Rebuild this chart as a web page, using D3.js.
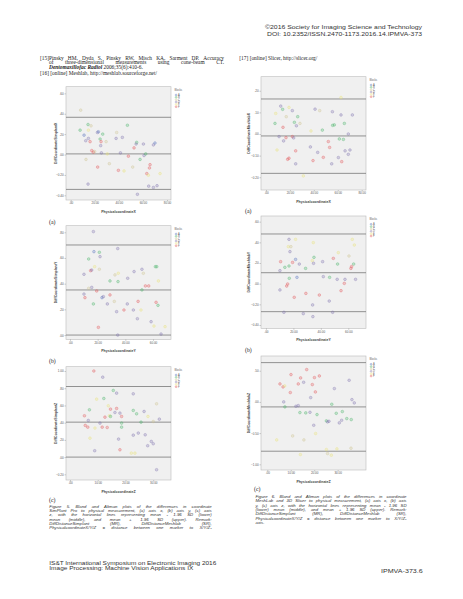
<!DOCTYPE html>
<html><head><meta charset="utf-8">
<script src="https://cdn.jsdelivr.net/npm/d3@7"></script>
<style>
body{margin:0;background:#fff}
svg{display:block}
.ref{font-family:"Liberation Serif","Times New Roman",serif;font-size:5.4px;fill:#222}
.cap{font-family:"Liberation Sans",Arial,sans-serif;font-style:italic;font-size:4.3px;fill:#333}
.hdr{font-family:"Liberation Sans",Arial,sans-serif;font-size:6.2px;fill:#333}
.plab{font-family:"Liberation Serif","Times New Roman",serif;font-size:5.8px;fill:#222}
.tick text{font-family:"Liberation Sans",Arial,sans-serif;font-size:3px;fill:#555}
.atitle{font-family:"Liberation Sans",Arial,sans-serif;font-size:3.5px;font-weight:bold;fill:#444}
.leg{font-family:"Liberation Sans",Arial,sans-serif;font-size:2.6px;fill:#666}
</style>
</head><body><svg id="c" width="463" height="599"></svg>
<script>
// ---------- DATA ----------
const blockNames = ["A","B","C","D","E","F"];
const blockColors = ["#5a74bf","#4cb56a","#cfc594","#8275b0","#e9e27a","#e4585c"];

// Figure 5 (a): SimPlant, X
const laX = [8.3,7.8,11.1,14.4,14.7,12.5,14.7,16.9,16.1,22.2,23.0,24.4,25.2,24.9,26.6,29.4,17.5,18.8,19.9,25.5,12.7,22.4,14.4,32.1,38.2,37.7,42.9,47.1,41.3,39.6,44.3,47.9,51.5,52.6,54.8,54.3,60.4,57.6,60.9,62.3,65.9,65.4,63.2,64.5,55.4,64.8,68.7,71.7,68.7,70.0,74.2,30.4];
const laY = [0.435,0.239,0.19,0.294,0.239,0.135,0.158,0.281,0.126,0.216,0.223,0.152,0.126,0.087,0.2,0.126,0.039,0.023,0.029,0.016,-0.048,-0.123,-0.29,-0.09,0.216,0.158,0.168,0.287,0.016,-0.155,-0.161,-0.016,-0.123,0.065,0.119,0.103,0.103,-0.048,-0.01,0.006,-0.1,-0.132,-0.187,-0.203,-0.39,-0.31,-0.323,-0.306,0.094,0.113,-0.187,0.006];
const laB = "CBABEDDCFDABFDBCFFCDCFDCCDDBDFEFCFBDDBDBFFFEDDDDDAEE";
const laLines = [-0.342, 0.006, 0.365];

// Figure 5 (b): SimPlant, Y
const lbX = [16.9,17.3,21.2,21.7,34.5,13.5,17.8,14.9,15.7,10.1,21.2,28.9,32.5,34.7,34.9,41.7,46.3,52.0,53.0,61.7,62.7,63.9,54.5,56.9,52.0,15.7,13.5,19.3,10.1,10.8,23.1,24.1,28.9,16.9,27.0,32.0,41.4,49.2,33.7,39.0,45.8,48.7,51.3,62.2,63.6,58.6,60.7,20.5,34.5,65.8,68.7];
const lbY = [0.805,0.649,0.644,0.61,0.673,0.592,0.532,0.501,0.506,0.473,0.512,0.421,0.468,0.416,0.481,0.442,0.494,0.512,0.481,0.532,0.532,0.421,0.382,0.382,0.351,0.371,0.364,0.343,0.319,0.291,0.291,0.299,0.312,0.242,0.242,0.262,0.242,0.262,0.182,0.195,0.195,0.127,0.195,0.255,0.231,0.104,0.070,0.06,0.0,0.008,0.065];
const lbB = "DABDDBEFDDCBCBEDDDCBBEFFBDCFDFADFBDCDFDFDDEFBDEFDDE";
const lbLines = [0.0, 0.351, 0.701];

// Figure 5 (c): SimPlant, Z
const lcX = [8.6,11.8,15.6,16.8,22.8,12.2,9.6,13.8,14.6,16.8,16.2,14.2,12.6,14.6,7.0,5.2,6.6,10.8,18.0,18.6,22.8,24.0,26.7,28.1,31.2,32.2,30.0,25.6,18.6,18.6,5.5,6.4,11.6,13.4,9.0,7.2,17.5,22.8,24.6,27.1,28.0,29.3,30.0,8.9,18.0,22.1,31.2,23.4];
const lcY = [1.0,0.928,0.774,0.743,0.735,0.681,0.673,0.596,0.557,0.565,0.518,0.48,0.464,0.472,0.549,0.48,0.426,0.395,0.511,0.472,0.542,0.503,0.53,0.472,0.619,0.441,0.414,0.406,0.395,0.348,0.368,0.348,0.348,0.344,0.337,0.22,0.209,0.255,0.279,0.259,0.132,0.182,0.155,0.074,0.085,0.046,-0.147,0.046];
const lcB = "FDBDDBEEFFDEFBBFDDDFBBDECDCBBBFFFFEEDDDDDDDDFEDE";
const lcLines = [0.0, 0.406, 0.82];

// Figure 6 (a): Meshlab, X
const raX = [12.3,13.9,19.2,22.0,8.1,7.5,14.2,16.9,23.7,25.4,26.5,28.4,41.0,44.9,37.6,47.1,55.5,62.7,55.7,57.1,65.5,72.2,68.8,62.7,10.9,16.7,14.7,22.0,23.1,9.2,18.1,19.2,24.8,24.8,37.1,39.3,43.2,47.9,52.1,53.2,54.9,61.3,64.7,60.5,63.3,66.1,68.8,70.2,31.2];
const raY = [0.129,0.114,0.123,0.108,0.095,0.049,0.031,0.08,0.054,0.038,0.08,0.049,0.115,0.108,0.014,0.018,0.103,0.088,0.04,0.042,0.049,0.088,0.0,0.169,-0.012,-0.017,-0.032,-0.012,-0.018,-0.074,-0.117,-0.112,-0.078,-0.138,-0.06,-0.123,-0.085,-0.108,-0.035,-0.062,-0.138,-0.023,-0.025,-0.109,-0.128,-0.078,-0.094,-0.074,-0.194];
const raB = "DBEDEBFCBDBCDCEBDDBBBDDEDFDFDEFFFDDFDFFFDBBDFDDDE";
const raLines = [-0.182, -0.009, 0.162];

// Figure 6 (b): Meshlab, Y
const rbX = [16.8,16.3,18.2,21.6,17.5,34.5,10.7,10.2,13.8,16.8,19.4,21.6,24.3,28.9,33.8,35.0,34.7,41.3,49.1,52.2,52.7,60.5,62.9,64.4,63.9,61.9,62.4,17.0,22.6,10.2,15.1,15.8,20.6,29.1,34.0,41.8,46.4,51.9,57.6,65.3,54.7,57.1,38.9,46.1,13.1,27.2,34.2,48.6];
const rbY = [0.429,0.358,0.358,0.429,0.31,0.397,0.213,0.126,0.158,0.171,0.206,0.235,0.19,0.148,0.223,0.255,0.197,0.213,0.245,0.19,0.3,0.268,0.429,0.374,0.19,0.148,0.165,0.052,0.061,-0.061,-0.023,-0.003,-0.132,-0.094,-0.206,0.068,0.061,0.042,0.042,0.042,-0.068,0.003,-0.11,-0.168,-0.277,-0.29,-0.319,-0.277];
const rbB = "DECEDEFDBBFADBEBDDFBECEEBFFBADFFFFDDBDDDFFFDDDDD";
const rbLines = [-0.271, 0.106, 0.481];

// Figure 6 (c): Meshlab, Z
const rcX = [16.8,10.1,14.2,20.1,22.2,5.4,6.7,7.4,13.2,15.5,19.2,9.8,20.5,28.6,34.9,18.5,7.0,12.2,13.2,7.5,36.1,37.1,27.5,13.9,16.4,18.2,21.2,19.8,25.2,26.3,25.7,29.4,32.0,33.9,35.8,31.7,30.7,20.6,10.8,4.0,15.6,14.1,25.2,25.7,27.3,29.7,35.7];
const rcY = [0.518,0.438,0.384,0.39,0.416,0.288,0.24,0.256,0.288,0.315,0.278,0.15,0.16,0.214,0.347,0.069,0.0,-0.069,-0.059,-0.08,0.037,-0.016,-0.037,-0.171,-0.176,-0.166,-0.203,-0.374,-0.304,-0.31,-0.32,-0.182,-0.155,-0.267,-0.283,-0.294,-0.336,-0.507,-0.545,-0.609,-0.609,-0.844,-0.763,-0.828,-0.854,-0.753,-0.742];
const rcB = "FFFFFFFEFDFFFDDDDDDBDDBBBDBDBDDBBBBDDECECEECEEC";
const rcLines = [-0.79, -0.08, 0.63];

// tick values
const xTicks80 = [0,20,40,60,80];
const xTicks60 = [0,20,40,60];
const xTicks30 = [0,10,20,30];
const laYTicks = [-0.4,-0.2,0,0.2,0.4,0.6];
const lbYTicks = [0,0.2,0.4,0.6,0.8];
const lcYTicks = [-0.2,0,0.2,0.4,0.6,0.8,1.0];
const raYTicks = [-0.2,-0.1,0,0.1,0.2];
const rbYTicks = [-0.4,-0.2,0,0.2,0.4,0.6];
const rcYTicks = [-1,-0.5,0,0.5];

// ---------- LAYOUT / DRAW ----------
const svg = d3.select("#c");
const color = d3.scaleOrdinal().domain(blockNames).range(blockColors);
const fmt = v => d3.format(".2f")(v).replace(/^(-?)0\./, "$1.");

const panels = [
 {x:laX,y:laY,b:laB,lines:laLines,xt:xTicks80,yt:laYTicks,xTitle:"PhysicalcoordinateX",yTitle:"DiffCoordinateSimplantX",
  box:[66,86.7,171,200],xd:[-3.9,83.3],yd:[-0.446,0.665],lab:"(a)",lx:49,ly:223.5,ytx:56.6},
 {x:lbX,y:lbY,b:lbB,lines:lbLines,xt:xTicks60,yt:lbYTicks,xTitle:"PhysicalcoordinateY",yTitle:"DiffCoordinateSimplantY",
  box:[66,225.7,171,339.3],xd:[-2.9,73.0],yd:[-0.033,0.851],lab:"(b)",lx:49,ly:362.7,ytx:56.6},
 {x:lcX,y:lcY,b:lcB,lines:lcLines,xt:xTicks30,yt:lcYTicks,xTitle:"PhysicalcoordinateZ",yTitle:"DiffCoordinateSimplantZ",
  box:[66,366.7,171,480],xd:[-1.44,36.4],yd:[-0.266,1.05],lab:"(c)",lx:49,ly:502.3,ytx:56.6},
 {x:raX,y:raY,b:raB,lines:raLines,xt:xTicks80,yt:raYTicks,xTitle:"PhysicalcoordinateX",yTitle:"DiffCoordinateMeshlabX",
  box:[261,76.7,366,190],xd:[-4.2,83.6],yd:[-0.259,0.265],lab:"(a)",lx:245,ly:213,ytx:249.6},
 {x:rbX,y:rbY,b:rbB,lines:rbLines,xt:xTicks60,yt:rbYTicks,xTitle:"PhysicalcoordinateY",yTitle:"DiffCoordinateMeshlabY",
  box:[261,216,366,328.3],xd:[-3.6,72.9],yd:[-0.432,0.655],lab:"(b)",lx:245,ly:352,ytx:249.6},
 {x:rcX,y:rcY,b:rcB,lines:rcLines,xt:xTicks30,yt:rcYTicks,xTitle:"PhysicalcoordinateZ",yTitle:"DiffCoordinateMeshlabZ",
  box:[261,356,366,470],xd:[-2.7,42.1],yd:[-1.091,0.736],lab:"(c)",lx:254,ly:491,ytx:249.6}
];

panels.forEach(p => {
  const [x0,y0,x1,y1] = p.box;
  const g = svg.append("g");
  const x = d3.scaleLinear().domain(p.xd).range([x0,x1]);
  const y = d3.scaleLinear().domain(p.yd).range([y1,y0]);
  g.append("rect").attr("x",x0).attr("y",y0).attr("width",x1-x0).attr("height",y1-y0)
    .attr("fill","#f0f0f0").attr("stroke","#bbbbbb").attr("stroke-width",0.6);
  g.selectAll("line.refl").data(p.lines).join("line").attr("class","refl")
    .attr("x1",x0).attr("x2",x1).attr("y1",d=>y(d)).attr("y2",d=>y(d))
    .attr("stroke","#808080").attr("stroke-width",0.85);
  const pts = p.x.map((v,i)=>({x:v,y:p.y[i],b:p.b[i]}));
  g.selectAll("circle.pt").data(pts).join("circle").attr("class","pt")
    .attr("cx",d=>x(d.x)).attr("cy",d=>y(d.y)).attr("r",1.35)
    .attr("fill",d=>color(d.b)).attr("fill-opacity",0.28)
    .attr("stroke",d=>color(d.b)).attr("stroke-opacity",0.65).attr("stroke-width",0.5);
  const ax = g.append("g").attr("transform",`translate(0,${y1})`)
    .call(d3.axisBottom(x).tickValues(p.xt).tickSize(1.5).tickPadding(0.8).tickFormat(fmt));
  const ay = g.append("g").attr("transform",`translate(${x0},0)`)
    .call(d3.axisLeft(y).tickValues(p.yt).tickSize(1.5).tickPadding(0.8).tickFormat(fmt));
  [ax,ay].forEach(a => {
    a.select(".domain").remove();
    a.selectAll(".tick line").attr("stroke","#999").attr("stroke-width",0.5);
    a.attr("font-size",null).attr("font-family",null);
  });
  g.append("text").attr("class","atitle").attr("x",(x0+x1)/2).attr("y",y1+12.5)
    .attr("text-anchor","middle").text(p.xTitle);
  g.append("text").attr("class","atitle")
    .attr("transform",`translate(${p.ytx},${(y0+y1)/2}) rotate(-90)`)
    .attr("text-anchor","middle").text(p.yTitle);
  // legend
  const lx = x1 + 3.5;
  g.append("text").attr("class","leg").attr("x",lx).attr("y",y0+4.3).text("Blocks");
  blockNames.forEach((nm,i) => {
    const yy = y0 + 8.3 + i*2.35;
    g.append("circle").attr("cx",lx+1.6).attr("cy",yy).attr("r",0.95)
      .attr("fill",color(nm)).attr("fill-opacity",0.28)
      .attr("stroke",color(nm)).attr("stroke-opacity",0.75).attr("stroke-width",0.4);
    g.append("text").attr("class","leg").attr("x",lx+3.5).attr("y",yy+0.9).text(nm);
  });
  svg.append("text").attr("class","plab").attr("x",p.lx).attr("y",p.ly).text(p.lab);
});

// ---------- TEXT ----------
function justify(str, x, y, width, cls) {
  const words = str.split(" ");
  const nodes = words.map(w => svg.append("text").attr("class",cls).attr("y",y).text(w));
  const widths = nodes.map(n => n.node().getComputedTextLength());
  const gap = words.length > 1 ? (width - d3.sum(widths)) / (words.length - 1) : 0;
  let cx = x;
  nodes.forEach((n,i) => { n.attr("x",cx); cx += widths[i] + gap; });
}
function plain(str, x, y, cls, anchor) {
  return svg.append("text").attr("class",cls).attr("x",x).attr("y",y).attr("text-anchor",anchor||"start").text(str);
}

// header
plain("©2016 Society for Imaging Science and Technology", 422, 29, "hdr", "end").attr("textLength",157).attr("lengthAdjust","spacingAndGlyphs");
plain("DOI: 10.2352/ISSN.2470-1173.2016.14.IPMVA-373", 422, 36, "hdr", "end").attr("textLength",155).attr("lengthAdjust","spacingAndGlyphs");

// references
justify("[15]Pinsky HM, Dyda S, Pinsky RW, Misch KA, Sarment DP. Accuracy", 40, 59.5, 184, "ref");
justify("of three-dimensional measurements using cone-beam CT.", 49, 64.4, 175, "ref");
const r3 = svg.append("text").attr("class","ref").attr("x",49).attr("y",69.4);
r3.append("tspan").attr("font-weight","bold").attr("font-style","italic").text("Dentomaxillofac Radiol");
r3.append("tspan").text(" 2006;35(6):410-6.");
plain("[16] [online] Meshlab, http://meshlab.sourceforge.net/", 40, 74.6, "ref");
plain("[17] [online] Slicer, http://slicer.org/", 239.3, 59.5, "ref");

// captions
const capL = [
 "Figure 5. Bland and Altman plots of the differences in coordinate",
 "SimPlant Pro to physical measurement, (a) axis x, (b) axis y, (c) axis",
 "z, with the horizontal lines representing mean - 1.96 SD (lower)",
 "mean (middle), and mean + 1.96 SD (upper). Remark:",
 "DiffDistanceSimplant (MR), DiffDistanceMeshlab (SR),",
 "PhysicalcoordinateX/Y/Z = distance between one marker to X/Y/Z-"
];
capL.forEach((s,i) => justify(s, 49.3, 507.6 + i*4.33, 162.4, "cap"));
const capR = [
 "Figure 6. Bland and Altman plots of the differences in coordinate",
 "MeshLab and 3D Slicer to physical measurement, (a) axis x, (b) axis",
 "y, (c) axis z, with the horizontal lines representing mean - 1.96 SD",
 "(lower) mean (middle), and mean + 1.96 SD (upper). Remark:",
 "DiffDistanceSimplant (MR), DiffDistanceMeshlab (SR),",
 "PhysicalcoordinateX/Y/Z = distance between one marker to X/Y/Z-"
];
capR.forEach((s,i) => justify(s, 255.5, 498 + i*4.3, 151, "cap"));
plain("axis.", 255.5, 498 + 6*4.3, "cap");

// footer
plain("IS&T International Symposium on Electronic Imaging 2016", 49.3, 564.8, "hdr").attr("textLength",167).attr("lengthAdjust","spacingAndGlyphs");
plain("Image Processing: Machine Vision Applications IX", 49.3, 570.4, "hdr").attr("textLength",144).attr("lengthAdjust","spacingAndGlyphs");
plain("IPMVA-373.6", 422.7, 573, "hdr", "end").attr("textLength",41.7).attr("lengthAdjust","spacingAndGlyphs");
</script>
</body></html>
